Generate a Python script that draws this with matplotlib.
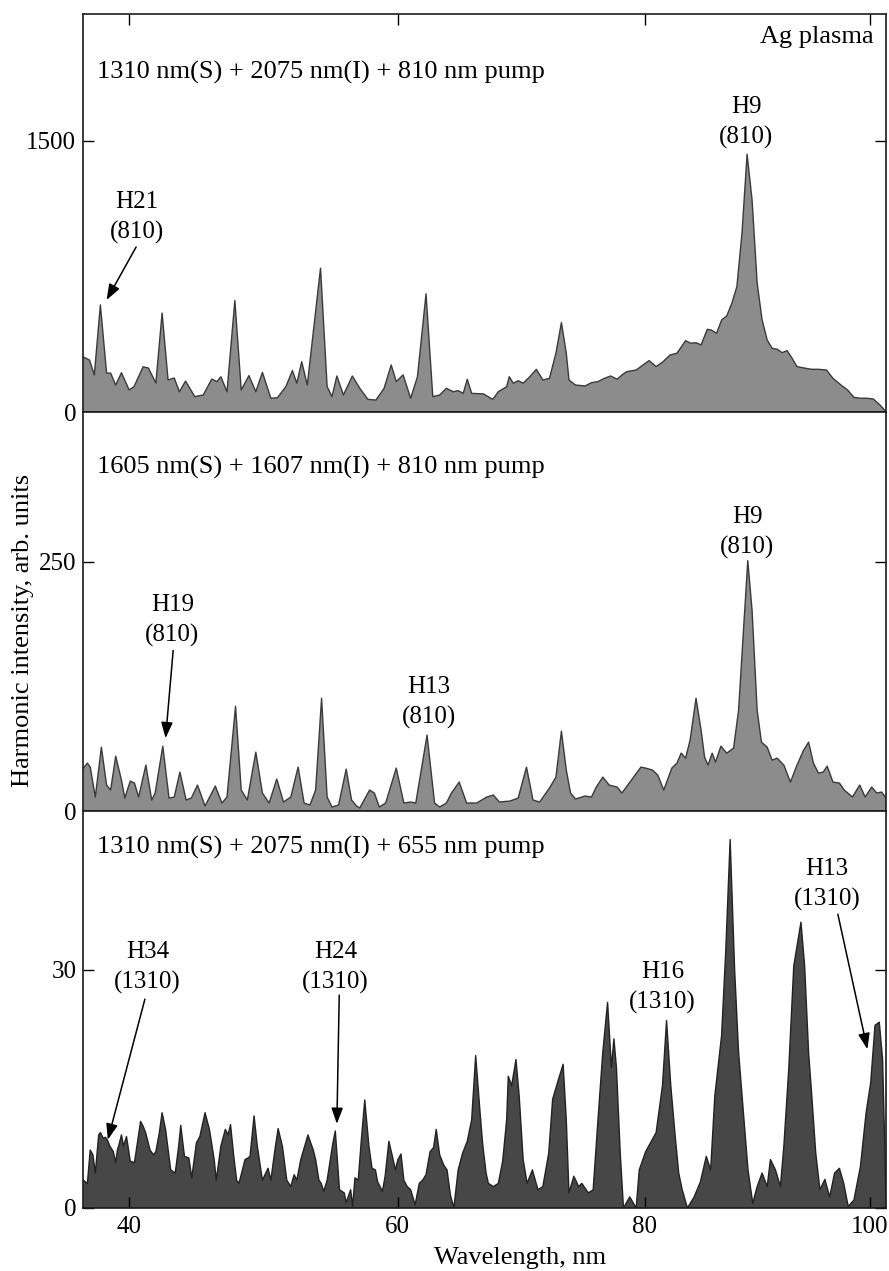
import numpy as np
import matplotlib.pyplot as plt

plt.rcParams['font.family'] = ['Liberation Serif', 'DejaVu Serif']

# -- Datos (longitud de onda en nm, intensidad en u.a.) --
# Panel superior: 1310 nm(S) + 2075 nm(I) + 810 nm
w1 = [36.76, 37.20, 37.54, 37.97, 38.41, 38.70, 39.06, 39.47, 40.02, 40.37,
      41.02, 41.40, 41.94, 42.39, 42.82, 43.27, 43.64, 44.09, 44.76, 45.38,
      46.00, 46.38, 46.67, 47.12, 47.70, 48.17, 48.74, 49.25, 49.74, 50.37,
      50.86, 51.49, 51.98, 52.31, 52.68, 53.10, 54.10, 54.60, 54.97, 55.34,
      55.84, 56.52, 57.09, 57.71, 58.33, 58.96, 59.51, 59.90, 60.43, 61.02,
      61.55, 62.22, 62.75, 63.29, 63.82, 64.35, 64.75, 65.15, 65.47, 65.82,
      66.75, 67.50, 67.95, 68.62, 68.83, 69.15, 69.55, 69.95, 70.49, 71.02,
      71.55, 72.09, 72.62, 73.07, 73.47, 73.69, 74.22, 75.02, 75.55, 76.09,
      76.62, 77.15, 77.69, 78.09, 78.49, 79.29, 79.69, 80.38, 80.98, 81.57,
      82.17, 82.76, 83.50, 83.95, 84.40, 84.84, 85.38, 85.73, 86.18, 86.63,
      87.07, 87.52, 87.96, 88.41, 88.86, 89.30, 89.75, 90.19, 90.64, 91.08,
      91.53, 91.98, 92.42, 92.87, 93.31, 94.05, 94.65, 95.25, 95.99, 96.58,
      97.32, 97.92, 98.51, 99.11, 99.70, 100.31, 100.93, 101.50]
i1 = [304, 287, 205, 592, 215, 215, 149, 217, 122, 140,
      250, 243, 160, 547, 177, 188, 112, 171, 85, 94,
      182, 168, 195, 112, 616, 122, 201, 112, 219, 76,
      79, 140, 229, 159, 278, 149, 795, 140, 85, 199,
      94, 199, 131, 70, 66, 131, 260, 168, 205, 76,
      195, 653, 85, 94, 131, 112, 118, 103, 181, 103,
      100, 70, 112, 140, 195, 159, 173, 159, 195, 236,
      177, 186, 325, 494, 325, 177, 149, 144, 162, 168,
      186, 199, 181, 205, 223, 232, 251, 284, 251, 278,
      315, 325, 394, 380, 383, 371, 457, 453, 435, 509,
      531, 601, 693, 988, 1425, 1172, 712, 509, 398, 352,
      347, 328, 339, 297, 251, 242, 236, 236, 232, 186,
      149, 122, 81, 76, 76, 72, 39, 2]

# Panel medio: 1605 nm(S) + 1607 nm(I) + 810 nm
w2 = [36.76, 37.05, 37.25, 37.61, 38.04, 38.41, 38.70, 39.06, 39.47, 39.71,
      40.10, 40.40, 40.70, 41.22, 41.64, 41.89, 42.44, 42.89, 43.27, 43.68,
      44.13, 44.51, 44.96, 45.51, 46.26, 46.75, 47.12, 47.75, 48.17, 48.62,
      49.25, 49.74, 50.24, 50.81, 51.31, 51.86, 52.41, 52.86, 53.30, 53.73,
      54.18, 54.60, 54.97, 55.47, 56.05, 56.46, 56.84, 57.09, 57.84, 58.21,
      58.59, 59.08, 59.90, 60.49, 61.02, 61.42, 62.30, 62.89, 63.29, 63.82,
      64.22, 64.83, 65.42, 66.22, 67.02, 67.55, 68.03, 68.89, 69.55, 70.22,
      70.75, 71.29, 72.09, 72.62, 73.07, 73.47, 73.82, 74.22, 75.02, 75.55,
      75.95, 76.49, 77.02, 77.69, 78.09, 78.89, 79.69, 80.09, 80.68, 81.12,
      81.63, 82.32, 82.76, 83.12, 83.50, 83.89, 84.40, 84.84, 85.14, 85.44,
      85.80, 86.09, 86.56, 87.07, 87.67, 88.11, 88.56, 88.92, 89.30, 89.75,
      90.13, 90.64, 91.08, 91.53, 92.13, 92.72, 93.31, 93.91, 94.36, 94.80,
      95.25, 95.69, 96.05, 96.58, 97.17, 97.62, 98.37, 99.05, 99.55, 100.16,
      100.63, 101.09, 101.50]
i2 = [43, 48, 44, 14, 64, 26, 21, 55, 31, 13,
      30, 28, 14, 46, 11, 18, 65, 13, 14, 39,
      11, 13, 26, 5, 25, 8, 14, 105, 21, 11,
      59, 18, 8, 32, 9, 14, 44, 8, 6, 21,
      113, 14, 4, 6, 42, 11, 5, 3, 21, 18,
      4, 8, 43, 8, 9, 8, 76, 8, 4, 8,
      18, 29, 8, 8, 14, 16, 9, 10, 13, 44,
      11, 9, 23, 34, 80, 41, 18, 12, 15, 14,
      24, 34, 26, 24, 18, 31, 44, 43, 41, 36,
      21, 43, 48, 58, 53, 71, 113, 81, 54, 46,
      58, 49, 65, 58, 63, 101, 184, 251, 201, 101,
      69, 64, 51, 53, 46, 29, 46, 61, 69, 48,
      38, 39, 45, 29, 28, 21, 14, 26, 14, 24,
      18, 19, 13]

# Panel inferior: 1310 nm(S) + 2075 nm(I) + 655 nm
w3 = [36.76, 37.05, 37.25, 37.44, 37.61, 37.85, 37.97, 38.17, 38.33, 38.46,
      38.64, 38.89, 39.06, 39.18, 39.30, 39.47, 39.62, 39.83, 40.10, 40.40,
      40.84, 41.02, 41.20, 41.52, 41.77, 41.94, 42.19, 42.39, 42.64, 42.84,
      43.01, 43.34, 43.59, 43.74, 44.01, 44.33, 44.54, 44.88, 45.13, 45.51,
      45.83, 46.18, 46.33, 46.67, 47.00, 47.20, 47.38, 47.62, 47.83, 48.00,
      48.17, 48.45, 48.67, 48.82, 49.12, 49.36, 49.74, 50.16, 50.37, 50.67,
      50.91, 51.23, 51.56, 51.86, 52.11, 52.31, 52.61, 53.15, 53.55, 53.73,
      53.98, 54.15, 54.35, 54.60, 55.04, 55.22, 55.54, 55.90, 56.05, 56.22,
      56.39, 56.54, 56.72, 56.97, 57.21, 57.47, 57.79, 58.03, 58.29, 58.46,
      58.83, 59.04, 59.33, 59.63, 59.83, 60.03, 60.27, 60.49, 60.75, 61.02,
      61.37, 61.69, 61.95, 62.22, 62.54, 62.81, 63.02, 63.29, 63.61, 63.87,
      64.14, 64.41, 64.75, 65.10, 65.47, 65.82, 66.14, 66.49, 66.70, 66.97,
      67.15, 67.55, 67.95, 68.30, 68.62, 68.75, 69.02, 69.37, 69.63, 69.95,
      70.27, 70.70, 71.15, 71.55, 72.03, 72.35, 72.75, 73.21, 73.47, 73.69,
      74.09, 74.49, 74.75, 75.29, 75.69, 76.09, 76.49, 76.89, 77.21, 77.42,
      77.63, 77.95, 78.22, 78.75, 79.29, 79.55, 80.09, 80.98, 81.52, 81.87,
      82.23, 82.61, 82.91, 83.21, 83.66, 84.24, 84.78, 85.29, 85.67, 86.03,
      86.62, 86.98, 87.37, 87.76, 88.11, 88.56, 88.94, 89.36, 89.75, 90.19,
      90.64, 90.93, 91.38, 91.82, 92.13, 92.57, 93.02, 93.67, 94.00, 94.36,
      94.65, 95.01, 95.39, 95.84, 96.28, 96.73, 97.17, 97.57, 97.98, 98.51,
      99.11, 99.64, 100.07, 100.47, 100.87, 101.18, 101.40, 101.50]
i3 = [3.5, 3.1, 7.3, 6.7, 4.4, 9.2, 9.5, 8.8, 8.9, 8.6,
      7.8, 7.1, 5.7, 7.3, 8.0, 9.2, 7.8, 9.0, 5.9, 5.7,
      10.9, 10.3, 9.5, 7.3, 6.7, 7.1, 9.5, 12.0, 9.9, 7.1,
      4.8, 4.4, 7.8, 10.4, 6.5, 6.3, 3.8, 8.2, 9.0, 12.0,
      9.9, 6.1, 3.5, 7.8, 9.9, 9.2, 10.5, 6.5, 3.5, 3.1,
      4.2, 6.1, 6.3, 6.5, 11.6, 7.8, 3.5, 5.0, 3.5, 7.3,
      10.0, 7.8, 3.5, 2.7, 4.2, 3.5, 6.1, 9.2, 7.3, 6.1,
      3.5, 3.1, 2.1, 3.5, 8.2, 9.7, 2.3, 1.9, 0.7, 1.5,
      2.3, 0.2, 3.8, 3.5, 8.6, 13.6, 7.8, 5.0, 4.8, 3.3,
      2.1, 4.0, 8.4, 6.3, 4.8, 6.1, 6.8, 3.5, 2.7, 2.3,
      0.4, 3.1, 3.5, 4.2, 7.1, 7.6, 9.9, 6.7, 5.4, 4.8,
      1.6, 0.0, 4.8, 6.9, 8.4, 11.1, 19.2, 12.0, 8.0, 4.4,
      3.1, 2.7, 3.1, 5.9, 11.1, 16.6, 15.4, 18.7, 14.1, 6.1,
      3.1, 4.8, 2.3, 2.7, 6.9, 13.7, 15.8, 18.1, 11.1, 1.9,
      4.0, 2.7, 3.1, 1.9, 2.3, 11.1, 19.6, 25.9, 17.7, 21.3,
      17.7, 6.9, 0.0, 1.4, 0.0, 4.8, 7.1, 9.5, 15.4, 23.6,
      15.4, 9.0, 4.4, 2.3, 0.0, 1.4, 3.3, 6.5, 4.8, 14.1,
      21.7, 32.2, 46.4, 30.1, 19.6, 11.6, 4.8, 0.6, 2.7, 4.4,
      2.7, 6.1, 4.8, 2.7, 7.8, 17.5, 30.5, 36.0, 30.5, 19.6,
      14.1, 6.9, 2.3, 3.6, 1.4, 4.4, 5.0, 3.1, 0.2, 1.0,
      5.2, 12.0, 15.8, 23.0, 23.4, 18.7, 6.9, 0.5]

titulos = ["1310 nm(S) + 2075 nm(I) + 810 nm pump",
           "1605 nm(S) + 1607 nm(I) + 810 nm pump",
           "1310 nm(S) + 2075 nm(I) + 655 nm pump"]
ymax = [2200, 400, 50]
ytick_top = [1500, 250, 30]
xticks = [40, 60, 80, 100]
XMIN, XMAX = 36.76, 101.5

# -- Escala no lineal del espectrometro (ticks mas juntos hacia 100 nm) ---
CURV = -0.0219


def fwd(x):
    t = (np.asarray(x, float) - 70.0) / 10.0
    return t + CURV * t**2


def inv(y):
    y = np.asarray(y, float)
    t = (-1.0 + np.sqrt(np.maximum(1.0 + 4.0 * CURV * y, 0.0))) / (2.0 * CURV)
    return 70.0 + 10.0 * t


W, H = 889, 1271
fig = plt.figure(figsize=(W / 100, H / 100), dpi=100)


def rect(top, bottom, left=83.3, right=886.0):
    return [left / W, 1 - bottom / H, (right - left) / W, (bottom - top) / H]


ax1 = fig.add_axes(rect(14, 412))
ax2 = fig.add_axes(rect(412, 811))
ax3 = fig.add_axes(rect(811, 1208))
axes = [ax1, ax2, ax3]

series = [(w1, i1, '#8c8c8c', '#3a3a3a'),
          (w2, i2, '#8c8c8c', '#3a3a3a'),
          (w3, i3, '#474747', '#222222')]

for k, (ax, (w, inten, face, edge)) in enumerate(zip(axes, series)):
    ax.fill_between(w, inten, 0, facecolor=face, edgecolor='none', zorder=1)
    ax.plot(w, inten, color=edge, lw=1.0, zorder=2)
    ax.set_xscale('function', functions=(fwd, inv))
    ax.set_xlim(XMIN, XMAX)
    ax.set_ylim(0, ymax[k])
    ax.set_xticks(xticks)
    ax.set_yticks([0, ytick_top[k]])
    ax.minorticks_off()
    ax.tick_params(axis='y', direction='in', length=8, width=1.0,
                   left=True, right=True, labelsize=18, pad=5)
    ax.tick_params(axis='x', direction='in', length=8, width=1.0,
                   top=(k == 0), bottom=(k == 2), labelbottom=(k == 2),
                   labeltop=False, labelsize=18, pad=6)
    for sp in ax.spines.values():
        sp.set_linewidth(1.2)
        sp.set_color('#1a1a1a')
    ax.text(0.017, [0.854, 0.862, 0.909][k], titulos[k], transform=ax.transAxes,
            ha='left', va='center', fontsize=19)

ax1.text(0.985, 0.942, "Ag plasma", transform=ax1.transAxes,
         ha='right', va='center', fontsize=19)


def etiqueta(ax, x, y, txt):
    ax.text(x, y, txt, ha='center', va='center', fontsize=18,
            linespacing=1.45, multialignment='center')


def flecha(ax, desde, hasta):
    ax.annotate('', xy=hasta, xytext=desde,
                arrowprops=dict(arrowstyle='-|>,head_length=0.6,head_width=0.22',
                                color='black', lw=1.1,
                                mutation_scale=16, shrinkA=0, shrinkB=0))


etiqueta(ax1, 88.77, 1601, "H9\n(810)")
etiqueta(ax1, 40.6, 1076, "H21\n(810)")
flecha(ax1, (40.52, 912), (38.41, 619))

etiqueta(ax2, 88.85, 279, "H9\n(810)")
etiqueta(ax2, 43.14, 191, "H19\n(810)")
flecha(ax2, (43.19, 161), (42.64, 73))
etiqueta(ax2, 62.47, 108.5, "H13\n(810)")

etiqueta(ax3, 41.35, 30.3, "H34\n(1310)")
flecha(ax3, (41.15, 26.3), (38.5, 8.6))
etiqueta(ax3, 55.22, 30.3, "H24\n(1310)")
flecha(ax3, (55.52, 26.8), (55.34, 10.6))
etiqueta(ax3, 81.52, 27.8, "H16\n(1310)")
etiqueta(ax3, 96.05, 40.8, "H13\n(1310)")
flecha(ax3, (97.03, 37.0), (99.76, 20.0))

fig.text(23 / W, 1 - 630 / H, "Harmonic intensity, arb. units",
         rotation=90, ha='center', va='center', fontsize=19)
fig.text(520 / W, 1 - 1258 / H, "Wavelength, nm",
         ha='center', va='center', fontsize=19)

fig.savefig('out.png', dpi=100)
